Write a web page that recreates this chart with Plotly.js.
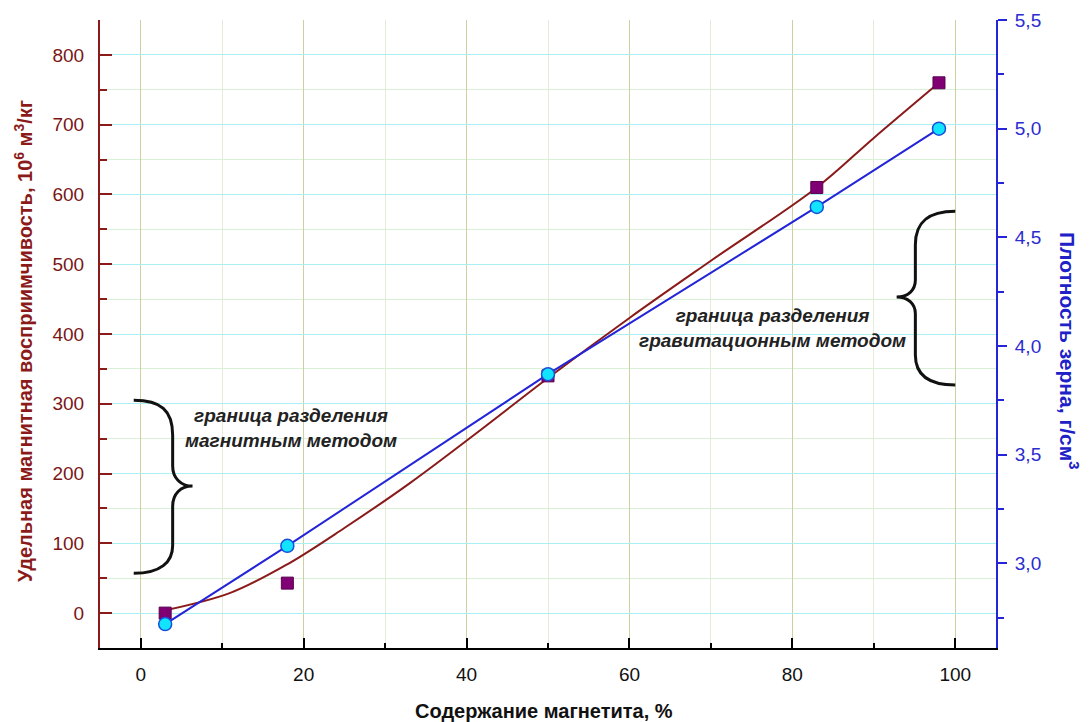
<!DOCTYPE html>
<html>
<head>
<meta charset="utf-8">
<script src="https://cdn.plot.ly/plotly-3.0.1.min.js"></script>
<style>html,body{margin:0;padding:0;background:#fff;}#chart{width:1091px;height:722px;}</style>
</head>
<body>
<div id="chart"></div>
<script>
// Data
const magnetite = [3, 18, 50, 83, 98];               // Содержание магнетита, %
const susceptibility = [0, 43, 340, 610, 760];       // 10^6 м3/кг (left axis)
const density = [2.72, 3.08, 3.87, 4.64, 5.0];       // г/см3 (right axis)
const fitX = [3, 11, 18, 25, 33, 42, 50, 60, 70, 83, 90, 98];
const fitY = [4, 29, 70, 122, 186, 265, 337, 423, 505, 610, 681, 760];
const xTicks = [0, 20, 40, 60, 80, 100];
const yTicks = [0, 100, 200, 300, 400, 500, 600, 700, 800];
const y2Ticks = [3.0, 3.5, 4.0, 4.5, 5.0, 5.5];
const y2TickText = ['3,0', '3,5', '4,0', '4,5', '5,0', '5,5'];

const FONT = '"Liberation Sans", Arial, sans-serif';
const RED = '#8b1a1a';
const BLUE = '#2424d8';

const traces = [
  {x: fitX, y: fitY, mode: 'lines', line: {color: RED, width: 2, shape: 'spline', smoothing: 1}, hoverinfo: 'skip', showlegend: false},
  {x: magnetite, y: susceptibility, mode: 'markers', marker: {symbol: 'square', size: 12, color: '#800074', line: {color: '#5a0050', width: 1}}, showlegend: false},
  {x: magnetite, y: density, yaxis: 'y2', mode: 'lines+markers', line: {color: BLUE, width: 2},
   marker: {symbol: 'circle', size: 13, color: '#12e4ff', line: {color: '#1a4fd6', width: 1.5}}, showlegend: false}
];

// brace decorations (in data coordinates of x / y)
const leftBrace = 'M -0.86,305 C 2.45,305 3.92,291 3.92,255 L 3.92,211 C 3.92,194 4.9,182 6.36,182 C 4.9,182 3.92,171 3.92,153 L 3.92,97 C 3.92,73 2.45,57 -0.86,57';
const rightBrace = 'M 100,576 C 96.7,576 95.1,561 95.1,528 L 95.1,477 C 95.1,463 94.2,453 92.8,453 C 94.2,453 95.1,443 95.1,429 L 95.1,370 C 95.1,341 96.7,327 100,327';

const layout = {
  width: 1091, height: 722,
  margin: {l: 100, r: 95, t: 20, b: 74},
  paper_bgcolor: '#ffffff', plot_bgcolor: '#ffffff',
  font: {family: FONT, size: 19, color: '#000'},
  separators: ', ',
  showlegend: false,
  xaxis: {
    range: [-5, 105], tickvals: xTicks, ticks: 'inside', ticklen: 10, tickwidth: 2, tickcolor: '#000',
    showline: true, linecolor: '#000', linewidth: 2, zeroline: false,
    showgrid: true, gridcolor: '#cfcfa0', gridwidth: 1,
    minor: {dtick: 10, tick0: 0, ticks: 'inside', ticklen: 5, tickwidth: 2, tickcolor: '#000', showgrid: true, gridcolor: '#e3ebdb', gridwidth: 1},
    ticklabelstandoff: 8, tickfont: {family: FONT, size: 19, color: '#111'}
  },
  yaxis: {
    range: [-50, 850], tickvals: yTicks, ticks: 'inside', ticklen: 12, tickwidth: 2, tickcolor: RED,
    showline: true, linecolor: RED, linewidth: 2, zeroline: false,
    showgrid: true, gridcolor: '#aaeff2', gridwidth: 1,
    minor: {dtick: 50, tick0: 0, ticks: 'inside', ticklen: 7, tickwidth: 2, tickcolor: RED, showgrid: true, gridcolor: '#d7f0d6', gridwidth: 1},
    ticklabelstandoff: 10, tickfont: {family: FONT, size: 19, color: '#7a1616'}
  },
  yaxis2: {
    overlaying: 'y', side: 'right', range: [2.61, 5.5],
    tickvals: y2Ticks, ticktext: y2TickText, ticks: 'outside', ticklen: 9, tickwidth: 2, tickcolor: BLUE,
    showline: true, linecolor: BLUE, linewidth: 2, zeroline: false, showgrid: false,
    minor: {dtick: 0.25, tick0: 0, ticks: 'outside', ticklen: 6, tickwidth: 2, tickcolor: BLUE, showgrid: false},
    ticklabelstandoff: 4, tickfont: {family: FONT, size: 19, color: '#2b2bcf'}
  },
  shapes: [
    {type: 'path', xref: 'x', yref: 'y', path: leftBrace, line: {color: '#111', width: 3}},
    {type: 'path', xref: 'x', yref: 'y', path: rightBrace, line: {color: '#111', width: 3}}
  ],
  annotations: [
    {xref: 'paper', yref: 'paper', x: 0.5, y: 0, yshift: -63, xshift: -4, yanchor: 'middle', showarrow: false,
     text: '<b>Содержание магнетита, %</b>', font: {family: FONT, size: 20, color: '#111'}},
    {xref: 'paper', yref: 'paper', x: 0, y: 0.5, xshift: -77, yshift: -7, xanchor: 'center', yanchor: 'middle', textangle: -90, showarrow: false,
     text: '<b>Удельная магнитная восприимчивость, 10<sup>6</sup> м<sup>3</sup>/кг</b>', font: {family: FONT, size: 20, color: RED}},
    {xref: 'paper', yref: 'paper', x: 1, y: 0.5, xshift: 73, yshift: -16, xanchor: 'center', yanchor: 'middle', textangle: 90, showarrow: false,
     text: '<b>Плотность зерна, г/см<sup>3</sup></b>', font: {family: FONT, size: 21, color: '#2020c8'}},
    {xref: 'x', yref: 'y', x: 18.4, y: 266, showarrow: false, align: 'center',
     text: '<b><i>граница разделения<br>магнитным методом</i></b>', font: {family: FONT, size: 19, color: '#222'}},
    {xref: 'x', yref: 'y', x: 77.5, y: 408, showarrow: false, align: 'center',
     text: '<b><i>граница разделения<br>гравитационным методом</i></b>', font: {family: FONT, size: 19, color: '#222'}}
  ]
};

Plotly.newPlot('chart', traces, layout, {displayModeBar: false, staticPlot: true});
</script>
</body>
</html>
